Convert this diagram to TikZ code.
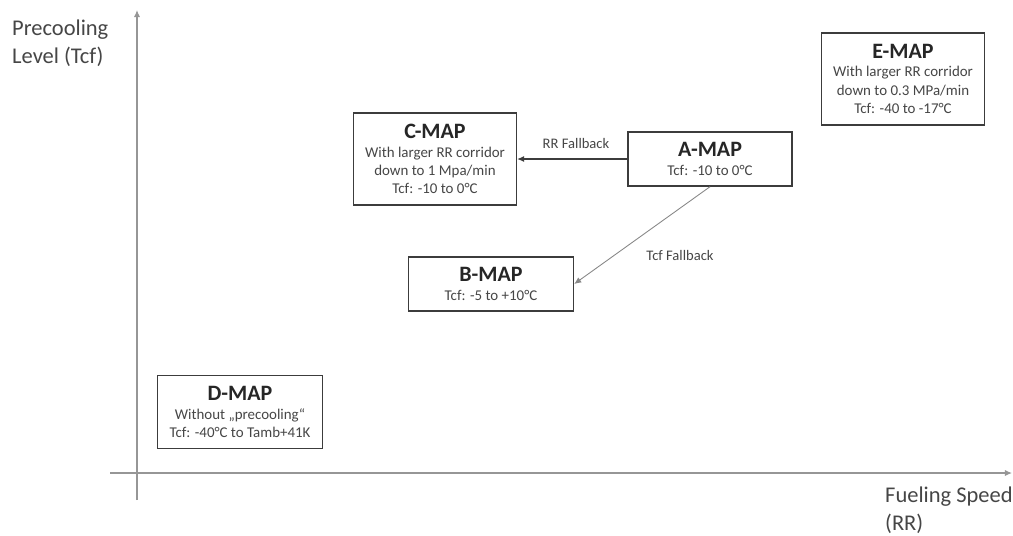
\documentclass[tikz,border=0pt]{standalone}
\usepackage{fontspec}
\setmainfont{Carlito}
\usepackage{xcolor}
\definecolor{axisgray}{RGB}{150,150,150}
\definecolor{boxgray}{RGB}{60,60,60}
\definecolor{textgray}{RGB}{70,70,70}
\usetikzlibrary{arrows.meta}
\newcommand{\maptitle}[1]{{\fontsize{12.5}{13}\selectfont\bfseries\color{black!85} #1}}

\begin{document}
\begin{tikzpicture}[x=0.02cm, y=-0.02cm, >={Latex[length=4pt,width=3.5pt]},
  mapbox/.style={draw=boxgray, line width=0.8pt, fill=white, align=center,
    inner sep=2pt, font=\fontsize{8.5}{10.4}\selectfont, text=textgray},
  axislabel/.style={align=left, anchor=north west, font=\fontsize{12.8}{15.5}\selectfont, text=textgray},
  fallback/.style={font=\fontsize{8.3}{10}\selectfont, text=textgray}]
  \useasboundingbox (0,0) rectangle (1013,535);

  % Axes
  \coordinate (O) at (137,473);
  \coordinate (ybot) at (137,500);
  \coordinate (ytop) at (137,10);
  \coordinate (xleft) at (110,473);
  \coordinate (xright) at (1012,473);
  \draw[->, axisgray, line width=0.7pt] (ybot) -- (ytop);
  \draw[->, axisgray, line width=0.7pt] (xleft) -- (xright);
  \node[axislabel] (ylab) at (6,14) {Precooling\\Level (Tcf)};
  \node[axislabel] (xlab) at (879,481) {Fueling Speed\\(RR)};

  % Maps
  \node[mapbox, minimum width=3.26cm, minimum height=1.84cm] (cmap) at (435,159)
    {\maptitle{C-MAP}\\With larger RR corridor\\down to 1 Mpa/min\\Tcf: -10 to 0°C};
  \node[mapbox, minimum width=3.28cm, minimum height=1.08cm] (amap) at (710,159)
    {\maptitle{A-MAP}\\Tcf: -10 to 0°C};
  \node[mapbox, minimum width=3.26cm, minimum height=1.84cm] (emap) at (903,79)
    {\maptitle{E-MAP}\\With larger RR corridor\\down to 0.3 MPa/min\\Tcf: -40 to -17°C};
  \node[mapbox, minimum width=3.3cm, minimum height=1.08cm] (bmap) at (491,284)
    {\maptitle{B-MAP}\\Tcf: -5 to +10°C};
  \node[mapbox, minimum width=3.3cm, minimum height=1.46cm] (dmap) at (240,412)
    {\maptitle{D-MAP}\\Without „precooling“\\Tcf: -40°C to Tamb+41K};

  % Fallbacks
  \draw[->, boxgray, line width=0.6pt] (amap.west) -- (cmap.east);
  \node[fallback] (rrlab) at (576,143) {RR Fallback};
  \draw[->, axisgray!90!black, line width=0.5pt] (amap.south) -- (bmap.east);
  \node[fallback] (tcflab) at (680,255) {Tcf Fallback};
\end{tikzpicture}
\end{document}
